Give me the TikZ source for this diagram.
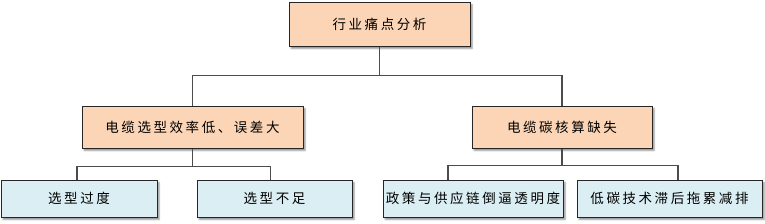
\documentclass[tikz,border=0pt]{standalone}
\usepackage{fontspec}
\newfontfamily\cjk[LetterSpace=19]{Noto Sans CJK SC}
\usetikzlibrary{calc}
\usetikzlibrary{shadows.blur}

\definecolor{peach}{HTML}{FBD5B5}
\definecolor{paleblue}{HTML}{DAEEF3}

\begin{document}
\begin{tikzpicture}[x=1pt, y=-1pt,
    box/.style={draw=black!85, line width=1pt, inner sep=0pt, minimum height=37pt,
        font=\cjk\fontsize{13.5}{15}\selectfont,
        blur shadow={shadow xshift=2pt, shadow yshift=-2.5pt, shadow blur steps=4, shadow opacity=45}},
    topbox/.style={box, fill=peach},
    leafbox/.style={box, fill=paleblue},
    link/.style={draw=black!70, line width=1.1pt}]

    \useasboundingbox (0,0) rectangle (765,223);

    % Draw root
    \node [topbox, minimum width=181pt, minimum height=44pt] (root) at (379.5,24) {行业痛点分析};

    % Draw second level
    \node [topbox, minimum width=221pt, minimum height=42pt] (sel) at (192.5,127) {电缆选型效率低、误差大};
    \node [topbox, minimum width=180pt, minimum height=42pt] (carb) at (562,127) {电缆碳核算缺失};

    % Draw leaves
    \node [leafbox, minimum width=156pt] (over) at (79,198.5) {选型过度};
    \node [leafbox, minimum width=155pt] (under) at (274.5,198.5) {选型不足};
    \node [leafbox, minimum width=180pt] (policy) at (473,198.5) {政策与供应链倒逼透明度};
    \node [leafbox, minimum width=185pt] (tech) at (669.5,198.5) {低碳技术滞后拖累减排};

    % Draw lines
    \coordinate (split) at ($(root.south)+(0,29)$);
    \draw [link] (root.south) -- (split) -| (sel.north);
    \draw [link] (split) -| (carb.north);

    \coordinate (splitL) at ($(sel.south)+(0,18)$);
    \draw [link] (sel.south) -- (splitL) -| ([xshift=-2pt]over.north);
    \draw [link] (splitL) -| ([xshift=-4pt]under.north);

    \coordinate (splitR) at ($(carb.south)+(0,17)$);
    \draw [link] (carb.south) -- (splitR) -| ([xshift=-25pt]policy.north);
    \draw [link] (splitR) -| ([xshift=8.5pt]tech.north);

\end{tikzpicture}
\end{document}
